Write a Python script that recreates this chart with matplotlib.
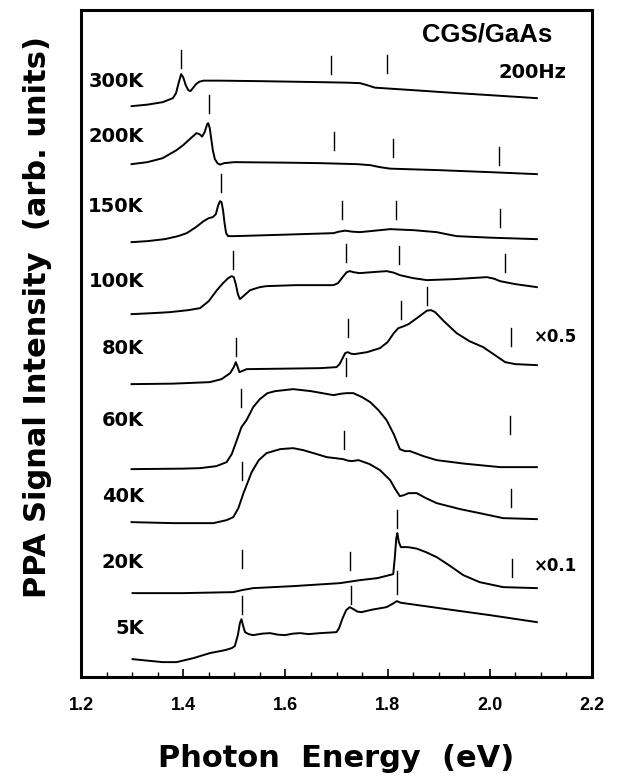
import numpy as np
import matplotlib
matplotlib.use("Agg")
from matplotlib import pyplot as plt
from matplotlib.ticker import MultipleLocator

plt.rcParams['font.family'] = ['Liberation Sans', 'DejaVu Sans']

# temperatures, top to bottom
temps = ["300K", "200K", "150K", "100K", "80K", "60K", "40K", "20K", "5K"]

# baseline (start of each trace), arb. units
offsets = [57.1, 51.3, 43.5, 36.3, 29.3, 20.8, 15.5, 8.4, 1.8]

# photon energy (eV) and signal above baseline for each trace
e_300 = [1.299, 1.33, 1.36, 1.38, 1.386, 1.391, 1.396, 1.400, 1.405, 1.410, 1.414, 1.419, 1.425, 1.432,
         1.44, 1.47, 1.55, 1.668, 1.72, 1.746, 1.76, 1.775, 1.85, 1.922, 2.0, 2.092]
s_300 = [0.0, 0.15, 0.4, 0.8, 1.3, 2.3, 3.2, 2.9, 2.1, 1.6, 1.5, 1.8, 2.2, 2.45,
         2.55, 2.55, 2.5, 2.4, 2.35, 2.3, 2.1, 1.85, 1.6, 1.35, 1.1, 0.8]

e_200 = [1.299, 1.33, 1.36, 1.387, 1.40, 1.415, 1.426, 1.432, 1.437, 1.442, 1.447, 1.449, 1.452, 1.455,
         1.458, 1.462, 1.467, 1.472, 1.48, 1.50, 1.60, 1.668, 1.74, 1.766, 1.785, 1.805, 1.9, 2.0, 2.092]
s_200 = [0.0, 0.2, 0.6, 1.4, 1.9, 2.6, 3.1, 3.0, 2.75, 3.2, 4.0, 4.1, 3.6, 2.5,
         1.4, 0.5, 0.1, -0.05, 0.1, 0.2, 0.15, 0.1, 0.0, -0.1, -0.3, -0.45, -0.6, -0.8, -1.0]

e_150 = [1.299, 1.33, 1.364, 1.39, 1.407, 1.425, 1.44, 1.45, 1.458, 1.464, 1.468, 1.472, 1.475, 1.478,
         1.481, 1.484, 1.488, 1.50, 1.60, 1.694, 1.705, 1.717, 1.73, 1.746, 1.805, 1.85, 1.896, 1.915,
         1.935, 2.0, 2.092]
s_150 = [0.0, 0.1, 0.3, 0.6, 0.9, 1.5, 2.1, 2.4, 2.5, 2.8, 3.6, 4.1, 4.0, 3.2,
         1.9, 0.9, 0.6, 0.6, 0.75, 0.9, 1.05, 1.15, 1.05, 1.0, 1.3, 1.2, 1.0, 0.8,
         0.6, 0.45, 0.3]

e_100 = [1.299, 1.34, 1.374, 1.41, 1.433, 1.45, 1.466, 1.478, 1.488, 1.495, 1.499, 1.503, 1.507, 1.511,
         1.52, 1.531, 1.55, 1.563, 1.62, 1.694, 1.703, 1.712, 1.720, 1.726, 1.733, 1.745, 1.77, 1.798,
         1.812, 1.824, 1.85, 1.877, 1.93, 1.994, 2.008, 2.020, 2.05, 2.092]
s_100 = [0.0, 0.1, 0.2, 0.4, 0.6, 1.3, 2.4, 3.1, 3.6, 3.8, 3.7, 3.0, 2.0, 1.5,
         1.9, 2.4, 2.7, 2.8, 2.9, 2.9, 3.1, 3.7, 4.2, 4.3, 4.2, 4.1, 4.2, 4.3,
         4.15, 3.9, 3.6, 3.4, 3.5, 3.7, 3.55, 3.3, 3.0, 2.7]

e_80 = [1.299, 1.38, 1.452, 1.475, 1.492, 1.499, 1.503, 1.506, 1.510, 1.515, 1.524, 1.6, 1.668, 1.700,
        1.706, 1.712, 1.717, 1.722, 1.728, 1.735, 1.76, 1.785, 1.80, 1.812, 1.821, 1.832, 1.841, 1.86,
        1.877, 1.885, 1.893, 1.91, 1.935, 1.96, 1.987, 2.01, 2.030, 2.05, 2.092]
s_80 = [0.0, 0.05, 0.2, 0.5, 1.1, 1.7, 2.2, 1.8, 1.2, 1.3, 1.5, 1.55, 1.6, 1.7,
        2.0, 2.6, 3.1, 3.2, 3.05, 3.0, 3.2, 3.6, 4.2, 5.1, 5.6, 5.8, 6.0, 6.7,
        7.35, 7.4, 7.2, 6.3, 5.1, 4.3, 3.7, 2.9, 2.2, 2.0, 1.9]

e_60 = [1.299, 1.40, 1.433, 1.465, 1.485, 1.495, 1.505, 1.514, 1.524, 1.537, 1.550, 1.565, 1.580, 1.615,
        1.65, 1.694, 1.71, 1.720, 1.733, 1.75, 1.766, 1.782, 1.798, 1.812, 1.824, 1.834, 1.844, 1.87,
        1.896, 1.95, 2.020, 2.092]
s_60 = [0.0, 0.05, 0.1, 0.3, 0.7, 1.5, 2.9, 4.2, 4.9, 6.2, 7.0, 7.6, 7.8, 8.0,
        7.8, 7.4, 7.55, 7.6, 7.6, 7.2, 6.7, 5.9, 4.9, 3.5, 2.0, 1.8, 1.8, 1.3,
        0.9, 0.55, 0.2, 0.2]

e_40 = [1.299, 1.38, 1.459, 1.485, 1.498, 1.508, 1.518, 1.534, 1.548, 1.563, 1.59, 1.615, 1.635, 1.655,
        1.681, 1.713, 1.722, 1.730, 1.743, 1.765, 1.785, 1.805, 1.815, 1.824, 1.832, 1.841, 1.857, 1.875,
        1.896, 1.942, 1.98, 2.026, 2.092]
s_40 = [0.0, -0.1, -0.1, 0.2, 0.5, 1.4, 2.9, 5.0, 6.2, 6.9, 7.3, 7.4, 7.2, 6.9,
        6.5, 6.3, 6.15, 6.1, 6.2, 5.8, 5.2, 4.2, 3.3, 2.6, 2.7, 2.9, 2.9, 2.4,
        1.9, 1.3, 0.9, 0.4, 0.3]

e_20 = [1.301, 1.40, 1.498, 1.515, 1.537, 1.615, 1.707, 1.746, 1.78, 1.811, 1.814, 1.817, 1.819, 1.822,
        1.826, 1.84, 1.857, 1.875, 1.896, 1.92, 1.948, 1.98, 2.026, 2.092]
s_20 = [0.0, 0.0, 0.1, 0.3, 0.5, 0.7, 1.0, 1.3, 1.5, 1.9, 3.5, 5.5, 6.0, 5.1,
        4.6, 4.6, 4.45, 4.1, 3.6, 2.8, 1.8, 1.1, 0.6, 0.5]

e_5 = [1.301, 1.33, 1.36, 1.387, 1.42, 1.452, 1.482, 1.495, 1.501, 1.507, 1.511, 1.514, 1.518, 1.521,
       1.528, 1.537, 1.555, 1.570, 1.585, 1.599, 1.615, 1.629, 1.645, 1.668, 1.685, 1.700, 1.705, 1.712,
       1.719, 1.726, 1.733, 1.741, 1.749, 1.77, 1.798, 1.812, 1.818, 1.825, 1.831, 1.88, 1.929, 2.0, 2.092]
s_5 = [0.0, -0.15, -0.3, -0.3, 0.1, 0.6, 0.9, 1.1, 1.3, 2.4, 3.6, 4.0, 3.2, 2.7,
       2.5, 2.4, 2.55, 2.6, 2.45, 2.4, 2.55, 2.6, 2.5, 2.6, 2.65, 2.7, 3.1, 4.1,
       4.9, 5.2, 5.0, 4.75, 4.7, 4.95, 5.2, 5.6, 5.8, 5.65, 5.6, 5.25, 4.9, 4.4, 3.7]

energies = [e_300, e_200, e_150, e_100, e_80, e_60, e_40, e_20, e_5]
signals = [s_300, s_200, s_150, s_100, s_80, s_60, s_40, s_20, s_5]

# vertical bars marking transitions: energy, height, length
marks_e = [1.396, 1.689, 1.799,
           1.450, 1.695, 1.810, 2.018,
           1.474, 1.710, 1.816, 2.020,
           1.497, 1.719, 1.822, 2.030,
           1.503, 1.722, 1.719, 1.826, 1.878, 2.041,
           1.514, 2.040,
           1.516, 1.714, 2.041,
           1.516, 1.726, 1.818, 2.043,
           1.516, 1.729, 1.819]
marks_y = [61.8, 61.25, 61.3,
           57.35, 53.6, 52.9, 52.1,
           49.45, 46.7, 46.7, 45.9,
           41.7, 42.4, 42.2, 41.4,
           33.05, 34.9, 31.05, 36.7, 38.15, 34.05,
           27.9, 25.2,
           20.65, 23.7, 17.9,
           11.8, 11.6, 15.8, 10.95,
           7.2, 8.2, 9.5]
marks_len = [1.8] * 32 + [2.3]

label_y = [59.6, 54.1, 47.1, 39.6, 32.9, 25.7, 18.1, 11.5, 4.9]

fig = plt.figure(figsize=(6.18, 7.81), dpi=100)
ax = fig.add_axes([0.131, 0.133, 0.827, 0.854])

for e, s, off in zip(energies, signals, offsets):
    ax.plot(e, np.array(s) + off, color='black', lw=1.4)

for e, y, ln in zip(marks_e, marks_y, marks_len):
    ax.plot([e, e], [y - ln / 2, y + ln / 2], color='black', lw=1.0)

for t, y in zip(temps, label_y):
    ax.text(1.323, y, t, ha='right', va='center', fontsize=14, fontweight='bold', family='DejaVu Sans')

ax.text(1.995, 64.3, "CGS/GaAs", ha='center', va='center', fontsize=18.5, fontweight='bold')
ax.text(2.083, 60.45, "200Hz", ha='center', va='center', fontsize=14, fontweight='bold', family='DejaVu Sans')
ax.text(2.128, 34.0, "×0.5", ha='center', va='center', fontsize=12, fontweight='bold', family='DejaVu Sans')
ax.text(2.128, 11.1, "×0.1", ha='center', va='center', fontsize=12, fontweight='bold', family='DejaVu Sans')

ax.set_xlim(1.2, 2.2)
ax.set_ylim(0, 66.7)
ax.xaxis.set_major_locator(MultipleLocator(0.2))
ax.xaxis.set_minor_locator(MultipleLocator(0.05))
ax.set_xticks([1.2, 1.4, 1.6, 1.8, 2.0, 2.2])
ax.set_xticklabels(["1.2", "1.4", "1.6", "1.8", "2.0", "2.2"], fontweight='bold', fontsize=13)
ax.tick_params(axis='x', which='major', direction='in', length=6, width=1.2, pad=14, top=False)
ax.tick_params(axis='x', which='minor', direction='in', length=3.5, width=1.0, top=False)
ax.set_yticks([])
for sp in ax.spines.values():
    sp.set_linewidth(2.2)

ax.set_xlabel("Photon  Energy  (eV)", fontsize=22, fontweight='bold', family='DejaVu Sans', labelpad=22)
ax.set_ylabel("PPA Signal Intensity  (arb. units)", fontsize=22, fontweight='bold', family='DejaVu Sans')
ax.yaxis.set_label_coords(-0.057, 0.54)

fig.savefig("out.png", dpi=100)
